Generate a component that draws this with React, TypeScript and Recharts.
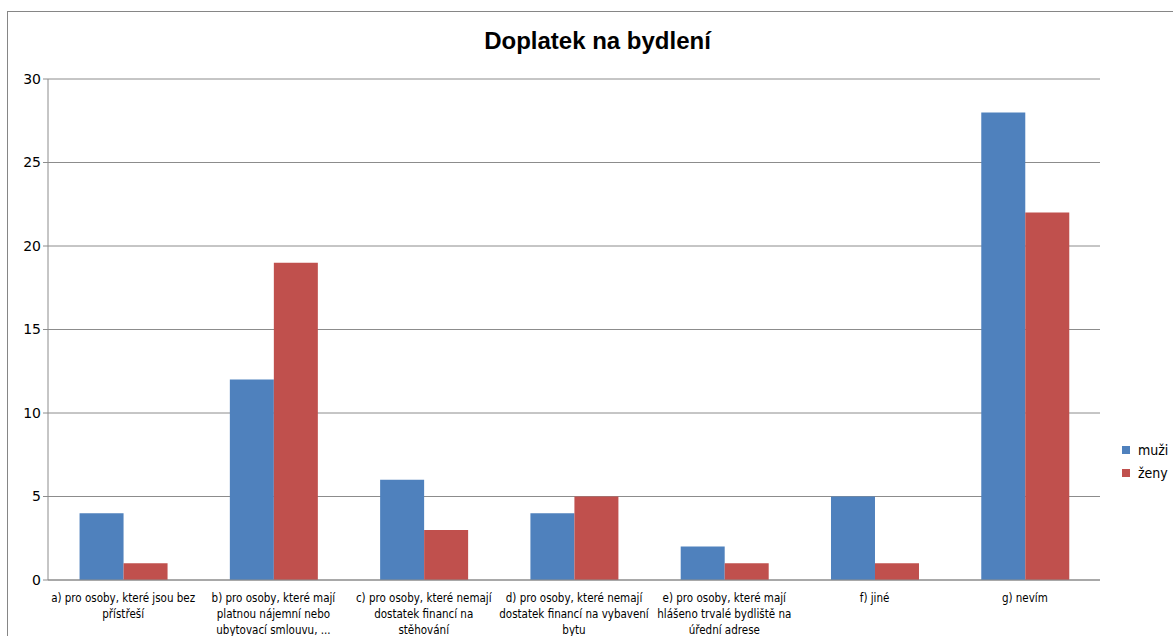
import React from 'react';
import { BarChart, Bar, XAxis, YAxis, CartesianGrid } from 'recharts';

const categories = [
  'a) pro osoby, které jsou bez\npřístřeší',
  'b) pro osoby, které mají\nplatnou nájemní nebo\nubytovací smlouvu, ...',
  'c) pro osoby, které nemají\ndostatek financí na\nstěhování',
  'd) pro osoby, které nemají\ndostatek financí na vybavení\nbytu',
  'e) pro osoby, které mají\nhlášeno trvalé bydliště na\núřední adrese',
  'f) jiné',
  'g) nevím',
];
const muzi = [4, 12, 6, 4, 2, 5, 28];
const zeny = [1, 19, 3, 5, 1, 1, 22];
const yTicks = [0, 5, 10, 15, 20, 25, 30];
const seriesNames = ['muži', 'ženy'];
const seriesColors = ['#4F81BD', '#C0504D'];

const data = categories.map((c, i) => ({ name: c, muzi: muzi[i], zeny: zeny[i] }));

const FONT = '"Liberation Sans Narrow", "DejaVu Sans Condensed", "Liberation Sans", sans-serif';

const CatTick = (props: any) => {
  const { x, y, payload } = props;
  const lines = String(payload.value).split('\n');
  return (
    <g transform={`translate(${x},${y})`}>
      {lines.map((l: string, i: number) => (
        <text key={i} x={0} y={14 + i * 16} textAnchor="middle" fontSize={11.5} fill="#000" fontFamily={FONT}>
          {l}
        </text>
      ))}
    </g>
  );
};

export default function App() {
  return (
    <div style={{ position: 'absolute', left: 0, top: 0, width: 1173, height: 636, background: '#fff', overflow: 'hidden' }}>
      <div style={{ position: 'absolute', left: 7, top: 11, width: 1200, height: 700, border: '1px solid #868686', boxSizing: 'border-box' }} />
      <div style={{ position: 'absolute', left: 0, top: 27, width: 1195, textAlign: 'center', fontFamily: '"Liberation Sans", Arial, sans-serif', fontWeight: 'bold', fontSize: 24, color: '#000' }}>
        Doplatek na bydlení
      </div>
      <div style={{ position: 'absolute', left: 0, top: 0 }}>
        <BarChart
          width={1173}
          height={636}
          data={data}
          margin={{ top: 79, right: 73, bottom: 0, left: 0 }}
          barCategoryGap="21%"
          barGap={0}
        >
          <CartesianGrid vertical={false} stroke="#8c8c8c" />
          <XAxis
            dataKey="name"
            interval={0}
            tick={<CatTick />}
            tickLine={false}
            axisLine={{ stroke: '#8c8c8c' }}
            height={56}
          />
          <YAxis
            domain={[0, 30]}
            ticks={yTicks}
            width={48}
            tick={{ fontSize: 14, fill: '#000', fontFamily: '"DejaVu Sans", sans-serif' }}
            tickLine={{ stroke: '#8c8c8c' }}
            tickSize={5}
            axisLine={{ stroke: '#8c8c8c' }}
            interval={0}
          />
          <Bar dataKey="muzi" name={seriesNames[0]} fill={seriesColors[0]} isAnimationActive={false} />
          <Bar dataKey="zeny" name={seriesNames[1]} fill={seriesColors[1]} isAnimationActive={false} />
        </BarChart>
      </div>
      <div style={{ position: 'absolute', left: 1122, top: 438, fontFamily: FONT, fontSize: 14 }}>
        {seriesNames.map((n, i) => (
          <div key={n} style={{ display: 'flex', alignItems: 'center', height: 23 }}>
            <span style={{ display: 'inline-block', width: 8, height: 8, background: seriesColors[i], marginRight: 8 }} />
            <span>{n}</span>
          </div>
        ))}
      </div>
    </div>
  );
}
